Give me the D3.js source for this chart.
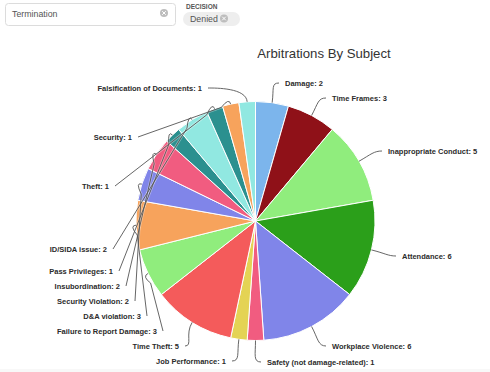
<!DOCTYPE html>
<html>
<head>
<meta charset="utf-8">
<script src="https://cdnjs.cloudflare.com/ajax/libs/d3/7.8.5/d3.min.js"></script>
<style>
  html, body { margin: 0; padding: 0; background: #fff; overflow: hidden; }
  text { font-family: "Liberation Sans", Arial, sans-serif; }
  .slice-label { font-size: 7.5px; font-weight: bold; fill: #2b2b2b; }
</style>
</head>
<body>
<svg id="chart" width="490" height="372"></svg>
<script>
const subjects = [
  'Damage', 'Time Frames', 'Inappropriate Conduct', 'Attendance', 'Workplace Violence',
  'Safety (not damage-related)', 'Job Performance', 'Time Theft', 'Failure to Report Damage',
  'D&A violation', 'Security Violation', 'Insubordination', 'Pass Privileges', 'ID/SIDA issue',
  'Theft', 'Security', 'Falsification of Documents',
];
const counts = [2, 3, 5, 6, 6, 1, 1, 5, 3, 3, 2, 2, 1, 2, 1, 1, 1];
const sliceColors = [
  '#7cb5ec', '#8f1118', '#90ed7d', '#2b9f1a', '#8085e9', '#f15c80', '#e4d354', '#f45b5b', '#90ed7d',
  '#f7a35c', '#8085e9', '#f15c80', '#2b908f', '#91e8e1', '#2b908f', '#f7a35c', '#91e8e1',
];

// where each label sits, same order as subjects
const labelSpots = [
  [285, 83], [332, 98], [388, 151], [402, 256], [332, 346], [267, 362], [226, 361], [179, 346], [157, 331],
  [141, 316], [129, 301], [120, 286], [113, 271], [107, 249], [109, 186], [132, 137], [202, 88],
];

const svg = d3.select('#chart');
const cx = 255.5;
const cy = 221;
const radius = 119.5;

// filter controls above the chart
const clearIcon = (x, y, r) => {
  svg.append('circle').attr('cx', x).attr('cy', y).attr('r', r).attr('fill', '#bdbdbd');
  const d = r * 0.45;
  svg.append('path')
    .attr('d', `M${x - d},${y - d}L${x + d},${y + d}M${x + d},${y - d}L${x - d},${y + d}`)
    .attr('stroke', '#fff')
    .attr('stroke-width', 1);
};

svg.append('rect')
  .attr('x', 5.5).attr('y', 3.5).attr('width', 170).attr('height', 22).attr('rx', 3)
  .attr('fill', '#fff').attr('stroke', '#dcdcdc');
svg.append('text').attr('x', 12).attr('y', 16.5).attr('font-size', 8.8).attr('fill', '#555').text('Termination');
clearIcon(164, 13, 4);

svg.append('text')
  .attr('x', 186).attr('y', 9).attr('font-size', 6.5).attr('font-weight', 'bold').attr('fill', '#555')
  .text('DECISION');
svg.append('rect')
  .attr('x', 183).attr('y', 12).attr('width', 57).attr('height', 14).attr('rx', 7)
  .attr('fill', '#eeeeee');
svg.append('text').attr('x', 190).attr('y', 21.5).attr('font-size', 8.8).attr('fill', '#555').text('Denied');
clearIcon(224, 18.5, 4);

svg.append('text')
  .attr('x', 324).attr('y', 58)
  .attr('text-anchor', 'middle')
  .attr('font-family', '"Open Sans", sans-serif')
  .attr('font-size', 13.2)
  .attr('fill', '#333')
  .text('Arbitrations By Subject');

svg.append('rect').attr('x', 0).attr('y', 369).attr('width', 490).attr('height', 3).attr('fill', '#f8f8f8');

const pie = d3.pie().sort(null).value((d) => d);
const arc = d3.arc().innerRadius(0).outerRadius(radius);
const arcs = pie(counts);

const plot = svg.append('g').attr('transform', `translate(${cx},${cy})`);

plot.selectAll('path.slice')
  .data(arcs)
  .join('path')
  .attr('class', 'slice')
  .attr('d', arc)
  .attr('fill', (d, i) => sliceColors[i])
  .attr('stroke', '#fff')
  .attr('stroke-width', 1);

const edgePoint = (angle, r) => [r * Math.sin(angle), -r * Math.cos(angle)];
const labelSide = (i) => (labelSpots[i][0] > cx ? 1 : -1);

const connector = (d, i) => {
  const mid = (d.startAngle + d.endAngle) / 2;
  const [ex, ey] = edgePoint(mid, radius);
  const side = labelSide(i);
  const lx = labelSpots[i][0] - cx - side * 6;
  const ly = labelSpots[i][1] - cy;
  const reach = Math.hypot(lx - ex, ly - ey);
  const p = d3.path();
  p.moveTo(ex, ey);
  if (reach > 50) {
    // long runs: tight hook off the rim, then straight to the label
    const [ox, oy] = edgePoint(mid, radius + 7);
    const t = 10 / reach;
    p.quadraticCurveTo(ox, oy, ex + (lx - ex) * t, ey + (ly - ey) * t);
    p.lineTo(lx, ly);
  } else {
    const [ox, oy] = edgePoint(mid, radius + 14);
    p.bezierCurveTo(ox, oy, lx - side * 8, ly, lx, ly);
  }
  return p.toString();
};

// the white halo is what shows as pale streaks over the left hand slices
plot.selectAll('path.halo')
  .data(arcs)
  .join('path')
  .attr('class', 'halo')
  .attr('d', connector)
  .attr('fill', 'none')
  .attr('stroke', '#fff')
  .attr('stroke-opacity', 0.35)
  .attr('stroke-width', 2.5);

plot.selectAll('path.connector')
  .data(arcs)
  .join('path')
  .attr('class', 'connector')
  .attr('d', connector)
  .attr('fill', 'none')
  .attr('stroke', '#555')
  .attr('stroke-width', 0.9);

svg.selectAll('text.slice-label')
  .data(arcs)
  .join('text')
  .attr('class', 'slice-label')
  .attr('x', (d, i) => labelSpots[i][0])
  .attr('y', (d, i) => labelSpots[i][1] + 2.7)
  .attr('text-anchor', (d, i) => (labelSide(i) > 0 ? 'start' : 'end'))
  .text((d, i) => `${subjects[i]}: ${d.value}`);
</script>
</body>
</html>
